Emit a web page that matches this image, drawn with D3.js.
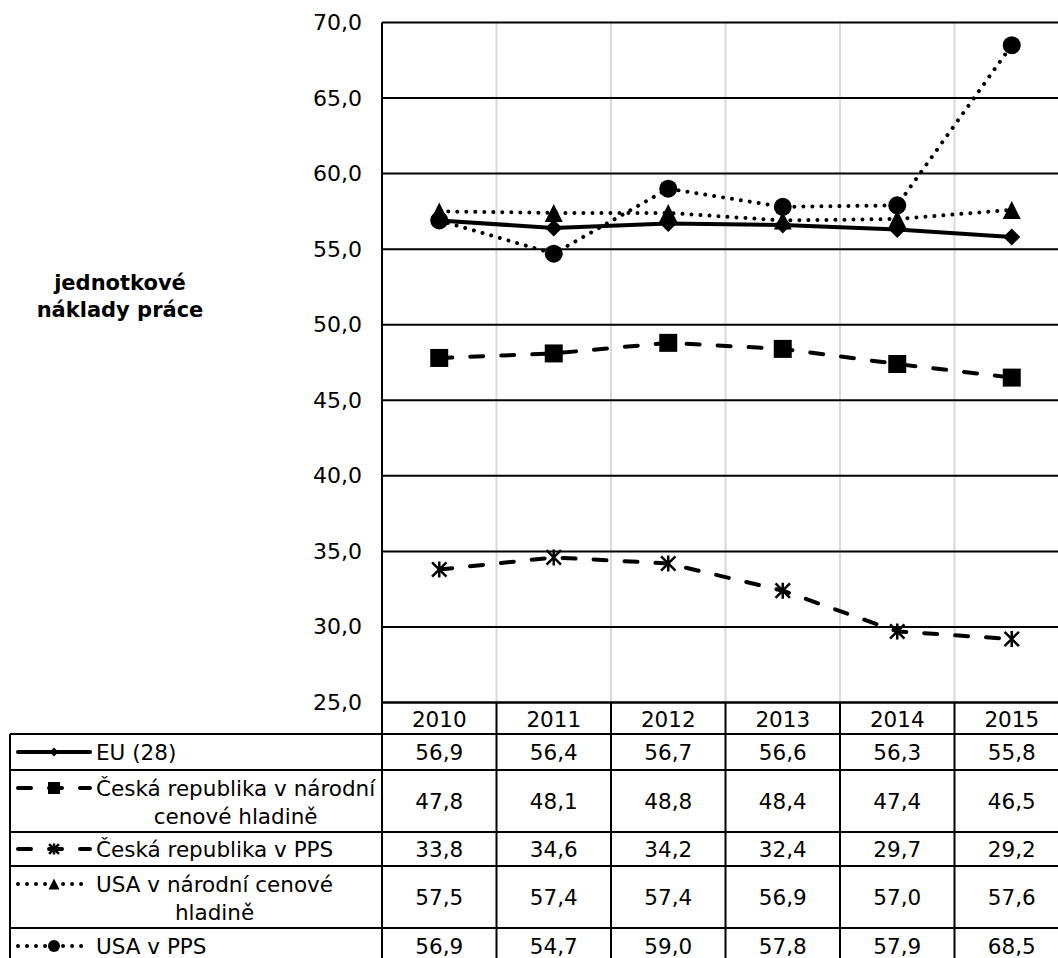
<!DOCTYPE html>
<html>
<head>
<meta charset="utf-8">
<script src="https://cdn.jsdelivr.net/npm/d3@7"></script>
<style>
  body { margin: 0; background: #fff; }
  svg { display: block; font-family: "DejaVu Sans", Verdana, sans-serif; }
</style>
</head>
<body>
<div id="chart"></div>
<script>
// chart data
var years = ["2010", "2011", "2012", "2013", "2014", "2015"];
var euValues = [56.9, 56.4, 56.7, 56.6, 56.3, 55.8];
var czNationalValues = [47.8, 48.1, 48.8, 48.4, 47.4, 46.5];
var czPpsValues = [33.8, 34.6, 34.2, 32.4, 29.7, 29.2];
var usaNationalValues = [57.5, 57.4, 57.4, 56.9, 57.0, 57.6];
var usaPpsValues = [56.9, 54.7, 59.0, 57.8, 57.9, 68.5];
var yTicks = [25, 30, 35, 40, 45, 50, 55, 60, 65, 70];
var seriesNames = [
  ["EU (28)"],
  ["Česká republika v národní", "cenové hladině"],
  ["Česká republika v PPS"],
  ["USA v národní cenové", "hladině"],
  ["USA v PPS"]
];
var axisTitle = ["jednotkové", "náklady práce"];

// Define SVG area dimensions
var svgWidth = 1058;
var svgHeight = 958;

var plotLeft = 382;
var step = 114.5;
var plotTop = 22.5;
var plotBottom = 702.5;

var svg = d3.select("#chart")
  .append("svg")
  .attr("width", svgWidth)
  .attr("height", svgHeight);

var xScale = d3.scaleBand()
  .domain(years)
  .range([plotLeft, plotLeft + step * years.length]);

var yScale = d3.scaleLinear()
  .domain([25, 70])
  .range([plotBottom, plotTop]);

var fmt = function(v) { return d3.format(".1f")(v).replace(".", ","); };

// series styles (dash pattern + marker)
var series = [
  { values: euValues, dash: null, marker: "diamond", size: 17, key: 9 },
  { values: czNationalValues, dash: "13 18", marker: "square", size: 18, key: 12 },
  { values: czPpsValues, dash: "13 18", marker: "star", size: 16, key: 11 },
  { values: usaNationalValues, dash: "0.01 9", marker: "triangle", size: 18, key: 11 },
  { values: usaPpsValues, dash: "0.01 9", marker: "circle", size: 18, key: 12 }
];

function markerPath(type, s) {
  var h = s / 2;
  if (type === "diamond") return "M0," + (-h) + "L" + h + ",0L0," + h + "L" + (-h) + ",0Z";
  if (type === "square") return "M" + (-h) + "," + (-h) + "h" + s + "v" + s + "h" + (-s) + "Z";
  if (type === "triangle") return "M0," + (-h) + "L" + h + "," + h + "L" + (-h) + "," + h + "Z";
  if (type === "circle") return "M" + h + ",0A" + h + "," + h + " 0 1,1 " + (-h) + ",0A" + h + "," + h + " 0 1,1 " + h + ",0Z";
  // star: vertical line plus an X
  var d = h * 0.9;
  return "M0," + (-h) + "V" + h + "M" + (-d) + "," + (-d) + "L" + d + "," + d + "M" + (-d) + "," + d + "L" + d + "," + (-d);
}

function drawMarker(g, type, s, x, y) {
  var p = g.append("path")
    .attr("d", markerPath(type, s))
    .attr("transform", "translate(" + x + "," + y + ")");
  if (type === "star") {
    p.attr("fill", "none").attr("stroke", "#000").attr("stroke-width", 2.5);
  } else {
    p.attr("fill", "#000");
  }
}

// vertical gridlines (light grey) at category boundaries
svg.append("g")
  .selectAll("line")
  .data(years.slice(1))
  .enter()
  .append("line")
  .attr("x1", d => xScale(d))
  .attr("x2", d => xScale(d))
  .attr("y1", plotTop)
  .attr("y2", plotBottom)
  .attr("stroke", "#d9d9d9")
  .attr("stroke-width", 2);

// horizontal gridlines
svg.append("g")
  .selectAll("line")
  .data(yTicks)
  .enter()
  .append("line")
  .attr("x1", plotLeft)
  .attr("x2", svgWidth)
  .attr("y1", d => yScale(d))
  .attr("y2", d => yScale(d))
  .attr("stroke", "#000")
  .attr("stroke-width", 2);

// left axis labels
var leftAxis = d3.axisLeft(yScale)
  .tickValues(yTicks)
  .tickFormat(fmt)
  .tickSize(0)
  .tickPadding(20);

var axisG = svg.append("g")
  .attr("transform", "translate(" + plotLeft + ",0)")
  .call(leftAxis);
axisG.select(".domain").remove();
axisG.selectAll("text")
  .attr("font-family", "DejaVu Sans, Verdana, sans-serif")
  .attr("font-size", "22px")
  .attr("fill", "#000");

// axis title
svg.append("g")
  .selectAll("text")
  .data(axisTitle)
  .enter()
  .append("text")
  .attr("x", 120)
  .attr("y", (d, i) => 290 + i * 27)
  .attr("text-anchor", "middle")
  .attr("font-weight", "bold")
  .attr("font-size", "21px")
  .text(d => d);

// lines + markers (straight segments)
var lineGen = d3.line()
  .x((d, i) => xScale(years[i]) + xScale.bandwidth() / 2)
  .y(d => yScale(d));

series.forEach(function(s) {
  var g = svg.append("g");
  g.append("path")
    .datum(s.values)
    .attr("d", lineGen)
    .attr("fill", "none")
    .attr("stroke", "#000")
    .attr("stroke-width", 4)
    .attr("stroke-linecap", "round")
    .attr("stroke-linejoin", "round")
    .attr("stroke-dasharray", s.dash);
  s.values.forEach(function(v, i) {
    drawMarker(g, s.marker, s.size, xScale(years[i]) + xScale.bandwidth() / 2, yScale(v));
  });
});

// ---- data table ----
var rowTops = [734, 770, 832, 866, 928, 964];
var yearRowTop = plotBottom;
var tableLeft = 10;
var table = svg.append("g");
var tableFont = "21.5px";

// year header
table.selectAll(".yr")
  .data(years)
  .enter()
  .append("text")
  .attr("class", "yr")
  .attr("x", d => xScale(d) + xScale.bandwidth() / 2)
  .attr("y", (yearRowTop + rowTops[0]) / 2 + 1)
  .attr("dy", "0.36em")
  .attr("text-anchor", "middle")
  .attr("font-size", tableFont)
  .text(d => d);

// value cells
series.forEach(function(s, r) {
  var cy = (rowTops[r] + rowTops[r + 1]) / 2;
  table.append("g")
    .selectAll("text")
    .data(s.values)
    .enter()
    .append("text")
    .attr("x", (d, i) => xScale(years[i]) + xScale.bandwidth() / 2)
    .attr("y", cy)
    .attr("dy", "0.36em")
    .attr("text-anchor", "middle")
    .attr("font-size", tableFont)
    .text(d => fmt(d));
});

// legend cells: key, then wrapped name (lines centred on the first line)
series.forEach(function(s, r) {
  var top = rowTops[r];
  var bottom = rowTops[r + 1];
  var twoLines = seriesNames[r].length > 1;
  var keyY = twoLines ? top + 18 : (top + bottom) / 2;
  var g = table.append("g");
  g.append("line")
    .attr("x1", 18)
    .attr("x2", 90)
    .attr("y1", keyY)
    .attr("y2", keyY)
    .attr("stroke", "#000")
    .attr("stroke-width", 4)
    .attr("stroke-linecap", "round")
    .attr("stroke-dasharray", s.dash);
  drawMarker(g, s.marker, s.key, 54, keyY);
  var first = g.append("text")
    .attr("x", 96)
    .attr("y", keyY)
    .attr("dy", "0.36em")
    .attr("font-size", tableFont)
    .text(seriesNames[r][0]);
  if (twoLines) {
    var w = first.node().getComputedTextLength();
    g.append("text")
      .attr("x", 96 + w / 2)
      .attr("y", keyY + 28)
      .attr("dy", "0.36em")
      .attr("text-anchor", "middle")
      .attr("font-size", tableFont)
      .text(seriesNames[r][1]);
  }
});

// table borders
var border = table.append("g")
  .attr("stroke", "#000")
  .attr("stroke-width", 2);
border.append("line")
  .attr("x1", plotLeft).attr("x2", svgWidth)
  .attr("y1", yearRowTop).attr("y2", yearRowTop);
rowTops.forEach(function(y) {
  border.append("line")
    .attr("x1", tableLeft).attr("x2", svgWidth)
    .attr("y1", y).attr("y2", y);
});
border.append("line")
  .attr("x1", tableLeft).attr("x2", tableLeft)
  .attr("y1", rowTops[0]).attr("y2", svgHeight);
border.append("line")
  .attr("x1", plotLeft).attr("x2", plotLeft)
  .attr("y1", plotTop).attr("y2", svgHeight);
border.selectAll(".sep")
  .data(years.slice(1))
  .enter()
  .append("line")
  .attr("x1", d => xScale(d)).attr("x2", d => xScale(d))
  .attr("y1", yearRowTop).attr("y2", svgHeight);
</script>
</body>
</html>
